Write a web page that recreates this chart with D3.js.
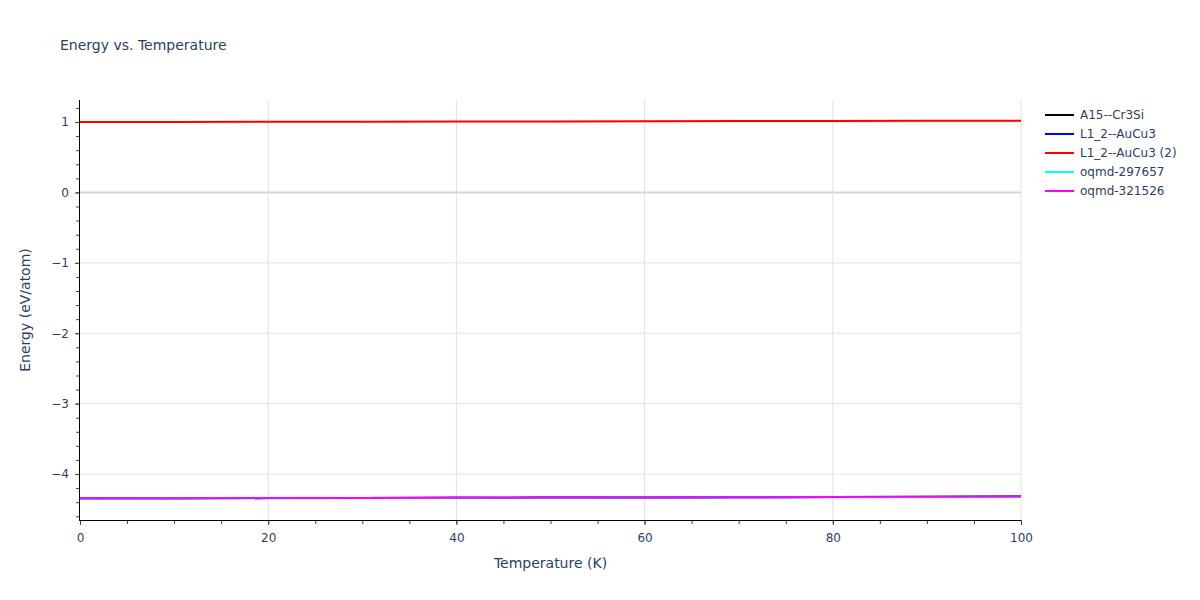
<!DOCTYPE html>
<html><head><meta charset="utf-8">
<script src="https://cdn.jsdelivr.net/npm/d3@7"></script>
<style>body{margin:0;background:#fff;} svg{display:block;} text{font-family:"DejaVu Sans",verdana,arial,sans-serif;}</style>
</head><body><svg id="c" width="1200" height="600"></svg>
<script>
const temperatures = [0,10,20,30,40,50,60,70,80,90,100];
const seriesNames = ["A15--Cr3Si","L1_2--AuCu3","L1_2--AuCu3 (2)","oqmd-297657","oqmd-321526"];
const seriesColors = ["#000000","#0000ff","#ff0000","#00ffff","#ff00ff"];
const a15 = [-4.345,-4.344,-4.342,-4.340,-4.337,-4.335,-4.332,-4.329,-4.327,-4.324,-4.320];
const l12 = [-4.345,-4.344,-4.342,-4.340,-4.338,-4.335,-4.333,-4.330,-4.328,-4.325,-4.322];
const l12b = [1.000,1.001,1.003,1.005,1.007,1.009,1.011,1.013,1.015,1.017,1.020];
const oq297 = [-4.346,-4.345,-4.343,-4.341,-4.339,-4.337,-4.335,-4.333,-4.331,-4.329,-4.326];
const oq321 = [-4.345,-4.344,-4.342,-4.340,-4.337,-4.335,-4.332,-4.329,-4.327,-4.324,-4.320];
const seriesValues = [a15,l12,l12b,oq297,oq321];
const xTicks = [0,20,40,60,80,100];
const yTicks = [-4,-3,-2,-1,0,1];

const svg = d3.select("#c");
const L=80,R=1021,T=100,B=520;
const x = d3.scaleLinear().domain([0,100]).range([L,R]);
const y = d3.scaleLinear().domain([-4.653,1.313]).range([B,T]);
const txt="#2a3f5f";

const g = svg.append("g");
g.selectAll(".vg").data(xTicks.filter(d=>d!==0)).enter().append("line")
 .attr("x1",d=>x(d)).attr("x2",d=>x(d)).attr("y1",T).attr("y2",B)
 .attr("stroke","#e1e1e1").attr("stroke-width",1);
g.selectAll(".hg").data(yTicks.filter(d=>d!==0)).enter().append("line")
 .attr("x1",L).attr("x2",R).attr("y1",d=>y(d)).attr("y2",d=>y(d))
 .attr("stroke","#e1e1e1").attr("stroke-width",1);
g.append("line").attr("x1",L).attr("x2",R).attr("y1",y(0)).attr("y2",y(0))
 .attr("stroke","#d6d6d6").attr("stroke-width",2);

svg.append("clipPath").attr("id","clip").append("rect").attr("x",L).attr("y",T).attr("width",R-L).attr("height",B-T);
const line = d3.line().x((d,i)=>x(temperatures[i])).y(d=>y(d));
const lg = svg.append("g").attr("clip-path","url(#clip)");
seriesValues.forEach((vals,i)=>{
  lg.append("path").attr("d",line(vals)).attr("fill","none")
   .attr("stroke",seriesColors[i]).attr("stroke-width",2);
});

const xMinor = d3.range(0,101,5);
const xa = svg.append("g").attr("transform",`translate(0,${B})`)
 .call(d3.axisBottom(x).tickValues(xMinor).tickSize(4).tickFormat(""));
xa.select(".domain").remove();
xa.selectAll("line").attr("stroke","#444");
const xb = svg.append("g").attr("transform",`translate(0,${B})`)
 .call(d3.axisBottom(x).tickValues(xTicks).tickSize(5).tickPadding(8).tickFormat(d3.format("d")));
xb.select(".domain").remove();
xb.selectAll("line").attr("stroke","#444");
xb.selectAll("text").attr("fill",txt).style("font-size","12px");
svg.append("line").attr("x1",L-1).attr("x2",R).attr("y1",B+0.5).attr("y2",B+0.5).attr("stroke","#000").attr("stroke-width",1);

const yMinor = d3.range(-46,14,2).map(d=>d/10);
const ya = svg.append("g").attr("transform",`translate(${L},0)`)
 .call(d3.axisLeft(y).tickValues(yMinor).tickSize(4).tickFormat(""));
ya.select(".domain").remove();
ya.selectAll("line").attr("stroke","#444");
const yb = svg.append("g").attr("transform",`translate(${L},0)`)
 .call(d3.axisLeft(y).tickValues(yTicks).tickSize(5).tickPadding(6).tickFormat(d=>d<0?"\u2212"+Math.abs(d):d));
yb.select(".domain").remove();
yb.selectAll("line").attr("stroke","#444");
yb.selectAll("text").attr("fill",txt).style("font-size","12px");
svg.append("line").attr("x1",L-0.5).attr("x2",L-0.5).attr("y1",T).attr("y2",B+1).attr("stroke","#000").attr("stroke-width",1);

svg.append("text").attr("x",60).attr("y",50).attr("fill",txt).style("font-size","14px").text("Energy vs. Temperature");
svg.append("text").attr("x",(L+R)/2).attr("y",568).attr("text-anchor","middle").attr("fill",txt).style("font-size","14px").text("Temperature (K)");
svg.append("text").attr("transform",`translate(30,${(T+B)/2}) rotate(-90)`).attr("text-anchor","middle").attr("fill",txt).style("font-size","14px").text("Energy (eV/atom)");

const leg = svg.append("g");
seriesNames.forEach((n,i)=>{
  const yy = 115 + i*19;
  leg.append("line").attr("x1",1045).attr("x2",1074).attr("y1",yy).attr("y2",yy).attr("stroke",seriesColors[i]).attr("stroke-width",2);
  leg.append("text").attr("x",1080).attr("y",yy+4).attr("fill",txt).style("font-size","12px").text(n);
});
</script></body></html>
